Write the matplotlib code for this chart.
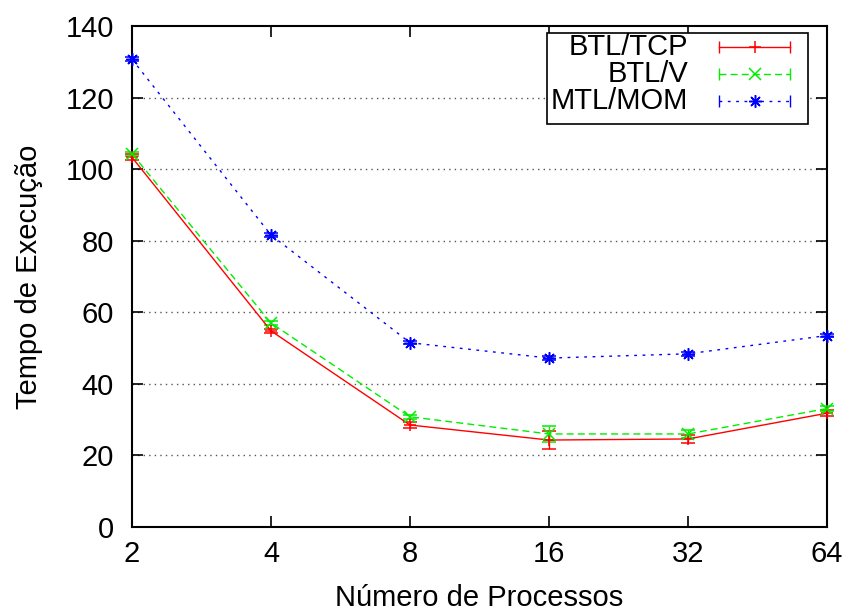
import numpy as np
import matplotlib
matplotlib.use("Agg")
import matplotlib.pyplot as plt
from matplotlib.patches import Rectangle

plt.rcParams["font.family"] = ["Liberation Sans", "DejaVu Sans"]
plt.rcParams["font.size"] = 21

# number of processes
procs = [2, 4, 8, 16, 32, 64]

# execution times
btl_tcp = [103.3, 54.8, 28.5, 24.3, 24.6, 31.8]
btl_tcp_err = [0.8, 0.6, 0.8, 2.4, 1.2, 0.9]
btl_v = [104.3, 57.0, 30.8, 26.0, 26.0, 33.1]
btl_v_err = [0.6, 0.6, 0.6, 2.2, 1.0, 0.8]
mtl_mom = [130.7, 81.6, 51.5, 47.2, 48.4, 53.5]
mtl_mom_err = [0.5, 0.5, 0.5, 0.5, 0.5, 0.5]

labels = ["BTL/TCP", "BTL/V", "MTL/MOM"]
colors = ["#ff0000", "#00ee00", "#0000ff"]
markers = ["+", "x", (8, 2, 0)]  # last one: gnuplot style asterisk
dashes = [None, (5, 3), (2, 4)]

fig = plt.figure(figsize=(8.46, 6.15), dpi=100)
ax = fig.add_axes([132 / 846, 1 - 527 / 615, 695 / 846, 501 / 615])

series = [(btl_tcp, btl_tcp_err), (btl_v, btl_v_err), (mtl_mom, mtl_mom_err)]
for (vals, err), lab, c, m, d in zip(series, labels, colors, markers, dashes):
    eb = ax.errorbar(procs, vals, yerr=err, color=c, lw=1.0, marker=m, ms=9,
                     mew=1.1, capsize=5, elinewidth=1.0, capthick=1.0,
                     label=lab, zorder=3, clip_on=False)
    if d is not None:
        eb[0].set_dashes(d)

ax.set_xscale("log", base=2)
ax.set_xlim(2, 64)
ax.set_ylim(0, 140)
ax.set_xticks(procs)
ax.set_xticklabels([str(p) for p in procs])
ax.minorticks_off()
ax.set_yticks(np.arange(0, 141, 20))

for y in range(20, 140, 20):
    ax.axhline(y, color="#555555", lw=1.0, ls=(0, (1, 3)), zorder=1)

ax.tick_params(axis="both", direction="in", length=8, width=1.2, top=True, right=True)
ax.tick_params(axis="x", pad=9)
ax.tick_params(axis="y", pad=13)
for s in ax.spines.values():
    s.set_linewidth(1.5)

ax.set_xlabel("Número de Processos", labelpad=12)
ax.set_ylabel("Tempo de Execução", labelpad=16)

# gnuplot style key, drawn by hand
tr = ax.transAxes
ax.add_patch(Rectangle((0.597, 0.804), 0.376, 0.182, transform=tr,
                       facecolor="white", edgecolor="black", lw=1.2, zorder=5))
rows = [0.958, 0.905, 0.851]
for lab, c, m, d, yr in zip(labels, colors, markers, dashes, rows):
    ax.text(0.800, yr, lab, transform=tr, ha="right", va="center", zorder=6)
    ln, = ax.plot([0.845, 0.947], [yr, yr], color=c, lw=1.0, transform=tr, zorder=6)
    if d is not None:
        ln.set_dashes(d)
    ax.plot([0.845, 0.947], [yr, yr], ls="none", marker="|", ms=9, mew=1.0,
            color=c, transform=tr, zorder=6)
    ax.plot([0.896], [yr], ls="none", marker=m, ms=9, mew=1.1, color=c,
            transform=tr, zorder=6)

fig.savefig("out.png", dpi=100)
